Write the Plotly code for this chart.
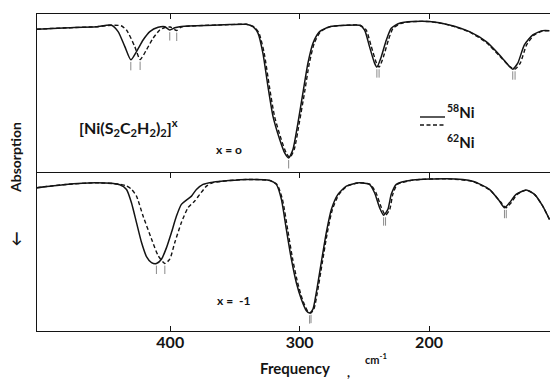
import numpy as np
import plotly.graph_objects as go
from plotly.subplots import make_subplots

# ---------------- data ----------------
# x = 0 panel, 58Ni (solid)
top58_freq = [503.3, 482.8, 457.0, 445.4, 440.3, 435.1, 430.5, 426.1, 421.0, 415.8, 409.4, 404.2,
              400.4, 396.5, 392.7, 379.8, 354.1, 341.2, 336.1, 332.2, 328.4, 324.5, 320.6, 315.4,
              311.6, 308.5, 305.2, 301.3, 297.5, 293.6, 289.7, 284.6, 276.8, 263.9, 253.7, 249.8,
              246.0, 242.1, 240.3, 236.9, 233.0, 229.2, 222.8, 212.5, 199.6, 184.2, 168.7, 155.8,
              145.5, 137.8, 135.3, 131.4, 126.3, 119.8, 112.1, 106.9]
top58_T = [90.4, 91.2, 92.0, 92.9, 88.9, 79.4, 71.1, 76.3, 83.6, 88.9, 91.6, 92.0,
           89.9, 91.3, 92.0, 92.6, 93.3, 93.5, 92.0, 87.9, 75.3, 54.3, 35.4, 20.8,
           12.4, 9.2, 14.5, 31.3, 50.1, 69.0, 81.6, 88.9, 92.0, 92.9, 92.9, 89.9,
           79.4, 69.0, 66.5, 73.1, 83.6, 91.0, 94.2, 95.2, 95.2, 93.1, 88.9, 82.6,
           74.2, 66.9, 65.2, 69.0, 80.5, 86.8, 89.5, 89.5]

# x = 0 panel, 62Ni (dashed)
top62_freq = [503.3, 482.8, 457.0, 445.4, 438.0, 433.8, 427.4, 423.3, 418.4, 413.3, 408.1, 404.2,
              400.0, 395.0, 391.5, 379.8, 354.1, 341.2, 335.5, 331.4, 327.4, 323.4, 319.4, 314.2,
              310.4, 307.6, 304.2, 300.3, 296.3, 292.5, 288.7, 283.8, 276.3, 263.9, 253.2, 248.6,
              244.6, 240.6, 238.6, 235.2, 231.4, 227.8, 222.0, 212.5, 199.6, 184.2, 168.7, 155.8,
              145.5, 137.0, 133.5, 129.5, 124.6, 118.6, 112.1, 106.9]
top62_T = [90.4, 91.2, 92.0, 92.9, 92.6, 89.9, 79.4, 71.3, 77.4, 84.7, 89.9, 91.5,
           91.8, 89.6, 91.8, 92.6, 93.3, 93.5, 92.0, 87.9, 75.3, 54.3, 35.4, 20.8,
           12.4, 9.4, 14.5, 31.3, 50.1, 69.0, 81.6, 88.9, 92.0, 92.9, 92.9, 89.9,
           79.4, 69.0, 66.5, 73.1, 83.6, 91.0, 94.0, 95.2, 95.2, 93.0, 88.6, 82.0,
           73.5, 66.5, 65.2, 69.0, 80.5, 86.8, 89.3, 89.5]

# x = -1 panel, 58Ni (solid)
bot58_freq = [503.3, 482.8, 457.0, 439.0, 433.8, 430.0, 426.1, 422.2, 418.4, 414.5, 410.7, 406.8,
              402.9, 399.1, 395.2, 391.4, 387.5, 383.6, 379.8, 374.7, 367.0, 341.2, 323.2, 318.0,
              314.1, 310.3, 306.4, 302.6, 298.7, 294.8, 292.3, 289.7, 287.1, 283.3, 279.4, 275.5,
              270.4, 263.9, 253.7, 246.0, 242.1, 238.2, 235.1, 231.8, 229.2, 225.3, 212.5, 186.7,
              166.2, 153.3, 145.5, 141.7, 137.8, 132.7, 124.9, 118.5, 112.1, 106.9]
bot58_T = [90.4, 92.3, 93.5, 92.3, 89.3, 80.9, 68.4, 55.8, 47.0, 43.2, 42.6, 45.3,
           52.6, 62.1, 72.5, 79.9, 82.6, 85.1, 89.3, 92.5, 93.9, 95.6, 95.0, 92.5,
           83.0, 64.2, 45.3, 30.6, 20.1, 12.8, 11.3, 13.8, 24.3, 43.2, 62.1, 76.7,
           86.2, 91.4, 93.5, 92.5, 87.2, 77.8, 73.1, 76.7, 86.2, 92.5, 95.2, 96.0,
           94.5, 89.3, 81.9, 77.8, 80.9, 86.2, 88.9, 86.2, 78.8, 70.4]

# x = -1 panel, 62Ni (dashed)
bot62_freq = [503.3, 482.8, 457.0, 439.0, 433.8, 430.0, 426.1, 421.0, 414.5, 409.4, 404.2, 400.4,
              396.5, 391.4, 386.3, 381.1, 377.2, 372.0, 367.0, 341.2, 323.2, 317.5, 313.3, 309.3,
              305.4, 301.6, 297.9, 294.0, 291.5, 289.0, 286.3, 282.5, 278.6, 274.7, 269.6, 263.4,
              253.7, 245.5, 241.0, 236.8, 233.6, 230.4, 228.0, 224.5, 212.5, 186.7, 166.2, 153.0,
              144.8, 140.3, 136.5, 131.9, 124.9, 118.5, 112.1, 106.9]
bot62_T = [90.4, 92.3, 93.5, 92.6, 91.5, 89.5, 85.1, 72.5, 58.1, 47.6, 42.6, 45.3,
           55.8, 68.4, 77.8, 82.0, 86.2, 91.4, 93.6, 95.6, 95.0, 92.5, 83.0, 64.2,
           45.3, 30.6, 20.1, 12.8, 11.3, 13.8, 24.3, 43.2, 62.1, 76.7, 86.2, 91.4,
           93.5, 92.5, 87.2, 77.8, 73.1, 76.7, 86.2, 92.5, 95.2, 96.0, 94.3, 88.9,
           81.5, 77.8, 80.9, 86.2, 88.9, 86.2, 78.8, 70.4]

# band positions marked under the peaks
top_peaks = [430.5, 423.3, 400.4, 395.0, 308.5, 240.3, 238.6, 135.3, 133.5]
bot_peaks = [410.7, 404.2, 292.3, 291.2, 235.1, 233.6, 141.7, 140.3]

x_ticks = [400, 300, 200]
x_tick_labels = ["400", "300", "200"]

# ---------------- figure ----------------
INK = "#141414"
FONT = "Lato"

fig = make_subplots(rows=2, cols=1, shared_xaxes=True, vertical_spacing=0)


def add_panel(row, f58, t58, f62, t62, peaks):
    fig.add_trace(go.Scatter(x=f58, y=t58, mode="lines", line=dict(color=INK, width=1.5, shape="spline", smoothing=0.6),
                             showlegend=False, hoverinfo="skip"), row=row, col=1)
    fig.add_trace(go.Scatter(x=f62, y=t62, mode="lines", line=dict(color=INK, width=1.4, dash="4px,2.5px", shape="spline", smoothing=0.6),
                             showlegend=False, hoverinfo="skip"), row=row, col=1)
    a = np.interp(peaks, f58[::-1], t58[::-1])
    b = np.interp(peaks, f62[::-1], t62[::-1])
    ymark = np.minimum(a, b) - 4.0
    fig.add_trace(go.Scatter(x=peaks, y=ymark, mode="markers",
                             marker=dict(symbol="line-ns", size=6, line=dict(color="#8a8a8a", width=1)),
                             showlegend=False, hoverinfo="skip"), row=row, col=1)


add_panel(1, top58_freq, top58_T, top62_freq, top62_T, top_peaks)
add_panel(2, bot58_freq, bot58_T, bot62_freq, bot62_T, bot_peaks)

xcommon = dict(range=[503, 106.5], showline=True, linecolor=INK, linewidth=1,
               ticks="inside", ticklen=5, tickcolor=INK, tickvals=x_ticks, ticktext=x_tick_labels,
               showgrid=False, zeroline=False)
ycommon = dict(range=[0, 100], showline=True, linecolor=INK, linewidth=1, showticklabels=False,
               ticks="", showgrid=False, zeroline=False)

fig.update_xaxes(**xcommon)
fig.update_xaxes(showticklabels=False, side="top", mirror=False, row=1, col=1)
fig.update_xaxes(showticklabels=True, mirror="ticks", ticklabelstandoff=-3,
                 tickfont=dict(family=FONT, size=16, color=INK, weight="bold"), row=2, col=1)
fig.update_yaxes(**ycommon)

W, H = 551, 381
L, R, T, B = 37, 1, 14, 50
pw, ph = W - L - R, H - T - B


def px(xp):
    return (xp - L) / pw


def py(yp):
    return (H - B - yp) / ph


ann = []


def text(t, xp, yp, size, angle=0, bold=True):
    ann.append(dict(text=t, x=px(xp), y=py(yp), xref="paper", yref="paper", showarrow=False,
                    xanchor="center", yanchor="middle", textangle=angle,
                    font=dict(family=FONT, size=size, color=INK, weight="bold" if bold else "normal")))


text("[Ni(S<sub>2</sub>C<sub>2</sub>H<sub>2</sub>)<sub>2</sub>]<sup>x</sup>", 128, 127, 16)
text("x = o", 229, 149, 12)
text("x =  -1", 233, 300, 12)
text("<sup>58</sup>Ni", 461, 112, 15)
text("<sup>62</sup>Ni", 461, 141, 15)
text("Absorption", 16, 158, 14, angle=-90)
text("↓", 16, 237, 15)
text("Frequency", 295, 368, 15)
text(",", 348, 372, 13)
text("cm<sup>-1</sup>", 376, 358, 11)

fig.update_layout(
    width=W, height=H,
    margin=dict(l=L, r=R, t=T, b=B),
    paper_bgcolor="white", plot_bgcolor="white",
    annotations=ann,
    shapes=[
        dict(type="line", xref="paper", yref="paper", x0=px(420), x1=px(445), y0=py(117), y1=py(117),
             line=dict(color=INK, width=1.4)),
        dict(type="line", xref="paper", yref="paper", x0=px(420), x1=px(445), y0=py(125), y1=py(125),
             line=dict(color=INK, width=1.3, dash="4px,2.5px")),
    ],
)

fig.write_html("out.html", config={"displayModeBar": False},
               post_script="document.body.style.margin='0';document.body.style.overflow='hidden';")
